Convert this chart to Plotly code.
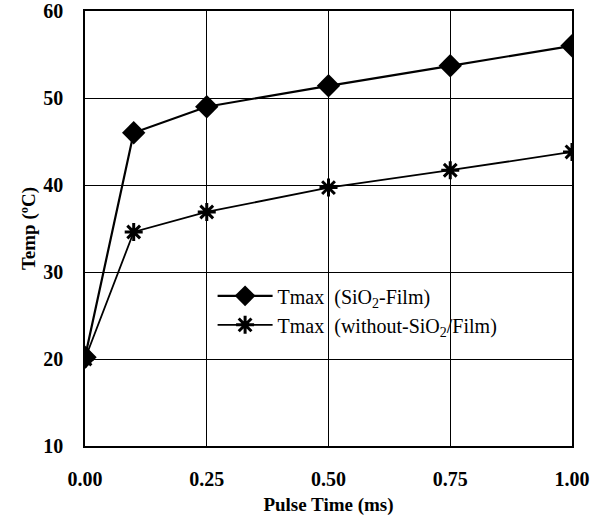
import plotly.graph_objects as go

pulse_time = [0.0, 0.1, 0.25, 0.5, 0.75, 1.0]
tmax_sio2 = [20.2, 46.0, 49.0, 51.4, 53.7, 56.0]
tmax_without = [20.0, 34.6, 36.9, 39.7, 41.7, 43.8]
x_ticks = [0.0, 0.25, 0.5, 0.75, 1.0]
x_tick_labels = ["0.00", "0.25", "0.50", "0.75", "1.00"]
y_ticks = [10, 20, 30, 40, 50, 60]

font_family = "Liberation Serif, Times New Roman, serif"

fig = go.Figure()
fig.add_trace(go.Scatter(
    x=pulse_time, y=tmax_sio2, mode="lines+markers",
    name="Tmax  (SiO<sub>2</sub>-Film)",
    line=dict(color="black", width=2.2),
    marker=dict(symbol="diamond", size=18, color="black"),
))
fig.add_trace(go.Scatter(
    x=pulse_time, y=tmax_without, mode="lines+markers",
    name="Tmax  (without-SiO<sub>2</sub>/Film)",
    line=dict(color="black", width=1.8),
    marker=dict(symbol="asterisk-open", size=15, color="black",
                line=dict(color="black", width=3)),
))

fig.update_layout(
    width=601, height=526,
    margin=dict(l=85, r=29, t=11, b=80),
    paper_bgcolor="white", plot_bgcolor="white",
    font=dict(family=font_family, color="black"),
    showlegend=True,
    legend=dict(
        x=0.262, y=0.39, xanchor="left", yanchor="top",
        bgcolor="rgba(0,0,0,0)", borderwidth=0,
        font=dict(family=font_family, size=20, color="black"),
        itemwidth=55, tracegroupgap=4,
    ),
    xaxis=dict(
        range=[0, 1], tickvals=x_ticks, ticktext=x_tick_labels,
        showgrid=True, gridcolor="black", gridwidth=1,
        showline=True, linecolor="black", linewidth=1.5, mirror=True,
        ticks="", zeroline=False, ticklabelstandoff=14, automargin=False,
        ticklabeloverflow="allow",
        tickfont=dict(family=font_family, size=20, color="black", weight="bold"),
        title=dict(text="<b>Pulse Time (ms)</b>", standoff=9,
                   font=dict(family=font_family, size=19, color="black")),
    ),
    yaxis=dict(
        range=[10, 60], tickvals=y_ticks,
        showgrid=True, gridcolor="black", gridwidth=1,
        showline=True, linecolor="black", linewidth=1.5, mirror=True,
        ticks="", zeroline=False, ticklabelstandoff=16, automargin=False,
        ticklabeloverflow="allow",
        tickfont=dict(family=font_family, size=20, color="black", weight="bold"),
        title=dict(text="<b>Temp (ºC)</b>", standoff=3,
                   font=dict(family=font_family, size=19, color="black")),
    ),
)

fig.write_html("out.html")
